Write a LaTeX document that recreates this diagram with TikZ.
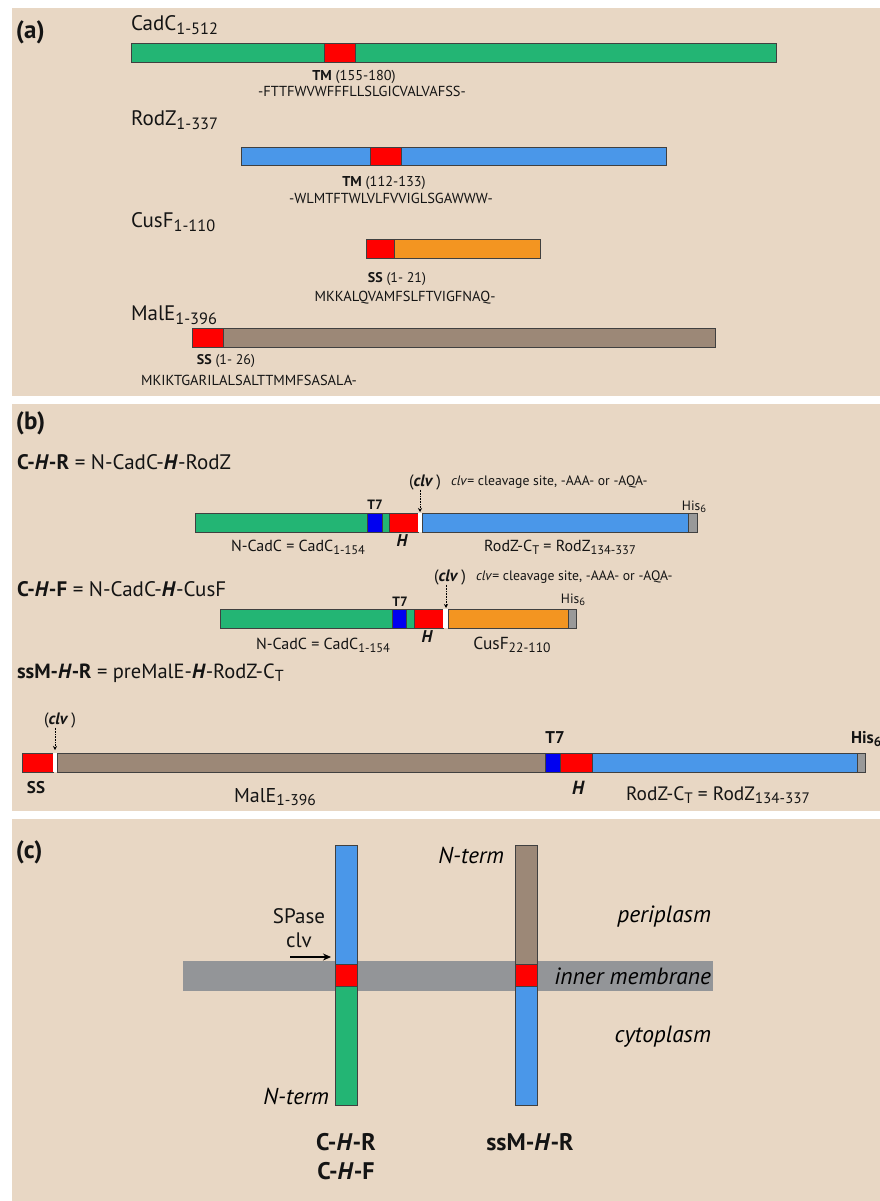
\documentclass[tikz,border=0pt]{standalone}
\usepackage{fontspec}
\setmainfont{PT Sans}
\usetikzlibrary{arrows.meta}
\definecolor{bg}{HTML}{E8D7C4}
\definecolor{cgreen}{HTML}{23B574}
\definecolor{cred}{HTML}{FF0000}
\definecolor{cblue}{HTML}{4A97E9}
\definecolor{corange}{HTML}{F39521}
\definecolor{cbrown}{HTML}{9C8877}
\definecolor{ct7}{HTML}{0000F0}
\definecolor{chis}{HTML}{999999}
\definecolor{cmem}{HTML}{939598}
\newcommand\fsz[1]{\fontsize{#1}{#1}\selectfont}
\newcommand\sbs[1]{\raisebox{-0.35ex}{\scalebox{0.78}{#1}}}
\newcommand\barseg[5]{\filldraw[segbox, fill=#5] (#1,#3) rectangle (#2,#4);}
\tikzset{
  segbox/.style={draw=black!75, line width=0.7pt},
  txt/.style={inner sep=0pt, outer sep=0pt, text=black!92},
  panel/.style={fill=bg, draw=none},
  clvarrow/.style={densely dotted, line width=0.6pt, -{Stealth[length=4pt,width=4pt]}},
  region/.style={txt, anchor=east, font=\fsz{23.5}\itshape, text=black},
}
\begin{document}
\begin{tikzpicture}[x=1pt,y=-1pt]
\useasboundingbox (0,0) rectangle (880,1201);
\fill[white] (0,0) rectangle (880,1201);
% panels
\fill[panel] (12,8) rectangle (880,396);
\fill[panel] (12,404) rectangle (880,811);
\fill[panel] (12,819) rectangle (880,1201);

% ================= (a)
\node[txt, anchor=west, font=\fsz{25}\bfseries] (la) at (16,32) {(a)};
\node[txt, anchor=west, font=\fsz{21}] (ncadc) at (131,25) {CadC\sbs{1-512}};
\barseg{131}{776}{43}{62}{cgreen}
\barseg{324}{355}{43}{62}{cred}
\node[txt, anchor=center, font=\fsz{14.3}] (tm1) at (354,77) {\textbf{TM} (155-180)};
\node[txt, anchor=center, font=\fsz{14.5}] (seq1) at (362,91) {-FTTFWVWFFFLLSLGICVALVAFSS-};

\node[txt, anchor=west, font=\fsz{21}] (nrodz) at (131,120) {RodZ\sbs{1-337}};
\barseg{241}{666}{147}{165}{cblue}
\barseg{370}{401}{147}{165}{cred}
\node[txt, anchor=center, font=\fsz{14.3}] (tm2) at (384,183) {\textbf{TM} (112-133)};
\node[txt, anchor=center, font=\fsz{14.5}] (seq2) at (391,198) {-WLMTFTWLVLFVVIGLSGAWWW-};

\node[txt, anchor=west, font=\fsz{21}] (ncusf) at (131,222) {CusF\sbs{1-110}};
\barseg{366}{540}{239}{258}{corange}
\barseg{366}{394}{239}{258}{cred}
\node[txt, anchor=center, font=\fsz{14}] (ss1) at (397,279) {\textbf{SS} (1- 21)};
\node[txt, anchor=center, font=\fsz{14.5}] (seq3) at (405,298) {MKKALQVAMFSLFTVIGFNAQ-};

\node[txt, anchor=west, font=\fsz{21}] (nmale) at (131,315) {MalE\sbs{1-396}};
\barseg{192}{715}{328}{347}{cbrown}
\barseg{192}{223}{328}{347}{cred}
\node[txt, anchor=center, font=\fsz{14}] (ss2) at (226,361) {\textbf{SS} (1- 26)};
\node[txt, anchor=center, font=\fsz{14.5}] (seq4) at (249,380) {MKIKTGARILALSALTTMMFSASALA-};

% ================= (b)
\node[txt, anchor=west, font=\fsz{25}\bfseries] (lb) at (16,423) {(b)};
\node[txt, anchor=west, font=\fsz{21}] (chr) at (17,462) {\textbf{C-\textit{H}-R} = N-CadC-\textbf{\textit{H}}-RodZ};

% C-H-R bar
\barseg{195}{367}{513}{532}{cgreen}
\barseg{367}{382}{513}{532}{ct7}
\barseg{382}{389}{513}{532}{cgreen}
\barseg{389}{418}{513}{532}{cred}
\fill[white] (418,513) rectangle (422,532);
\barseg{422}{688}{513}{532}{cblue}
\barseg{688}{697}{513}{532}{chis}
\node[txt, anchor=center, font=\fsz{16.5}] (clv1) at (425,482) {(\textbf{\textit{clv}}\,)};
\node[txt, anchor=west, font=\fsz{13.7}] (def1) at (451,482) {\textit{clv}= cleavage site, -AAA- or -AQA-};
\coordinate (a1) at (420,512);
\draw[clvarrow] (clv1.south -| a1) -- (a1);
\node[txt, anchor=center, font=\fsz{13.5}\bfseries] (t71) at (375,505) {T7};
\node[txt, anchor=center, font=\fsz{13.5}] (his1) at (694,507) {His\sbs{6}};
\node[txt, anchor=center, font=\fsz{16}] (nc1) at (298,547) {N-CadC = CadC\sbs{1-154}};
\node[txt, anchor=center, font=\fsz{17}\bfseries\itshape] (h1) at (402,541) {H};
\node[txt, anchor=center, font=\fsz{16}] (rz1) at (560,547) {RodZ-C\sbs{T} = RodZ\sbs{134-337}};

% C-H-F
\node[txt, anchor=west, font=\fsz{21}] (chf) at (17,589) {\textbf{C-\textit{H}-F} = N-CadC-\textbf{\textit{H}}-CusF};
\barseg{220}{392}{609}{628}{cgreen}
\barseg{392}{406}{609}{628}{ct7}
\barseg{406}{414}{609}{628}{cgreen}
\barseg{414}{443}{609}{628}{cred}
\fill[white] (443,609) rectangle (448,628);
\barseg{448}{568}{609}{628}{corange}
\barseg{568}{576}{609}{628}{chis}
\node[txt, anchor=center, font=\fsz{16.5}] (clv2) at (450,577) {(\textbf{\textit{clv}}\,)};
\node[txt, anchor=west, font=\fsz{13.7}] (def2) at (476,577) {\textit{clv}= cleavage site, -AAA- or -AQA-};
\coordinate (a2) at (446,608);
\draw[clvarrow] (clv2.south -| a2) -- (a2);
\node[txt, anchor=center, font=\fsz{13.5}\bfseries] (t72) at (400,602) {T7};
\node[txt, anchor=center, font=\fsz{13.5}] (his2) at (573,600) {His\sbs{6}};
\node[txt, anchor=center, font=\fsz{16}] (nc2) at (323,645) {N-CadC = CadC\sbs{1-154}};
\node[txt, anchor=center, font=\fsz{17}\bfseries\itshape] (h2) at (427,637) {H};
\node[txt, anchor=center, font=\fsz{17.4}] (cf2) at (512,645) {CusF\sbs{22-110}};

% ssM-H-R
\node[txt, anchor=west, font=\fsz{20.5}] (ssm) at (17,673) {\textbf{ssM-\textit{H}-R} = preMalE-\textbf{\textit{H}}-RodZ-C\sbs{T}};
\barseg{22}{53}{753}{772}{cred}
\fill[white] (53,753) rectangle (57,772);
\barseg{57}{545}{753}{772}{cbrown}
\barseg{545}{560}{753}{772}{ct7}
\barseg{560}{592}{753}{772}{cred}
\barseg{592}{857}{753}{772}{cblue}
\barseg{857}{865}{753}{772}{chis}
\node[txt, anchor=center, font=\fsz{16.5}] (clv3) at (60,720) {(\textbf{\textit{clv}}\,)};
\coordinate (a3) at (55,750);
\draw[clvarrow] (clv3.south -| a3) -- (a3);
\node[txt, anchor=center, font=\fsz{17}\bfseries] (t73) at (555,738) {T7};
\node[txt, anchor=west, font=\fsz{17}\bfseries] (his3) at (851,739) {His\sbs{6}};
\node[txt, anchor=center, font=\fsz{17}\bfseries] (ss3) at (36,788) {SS};
\node[txt, anchor=center, font=\fsz{20}] (male3) at (275,797) {MalE\sbs{1-396}};
\node[txt, anchor=center, font=\fsz{19}\bfseries\itshape] (h3) at (578,788) {H};
\node[txt, anchor=center, font=\fsz{19.4}] (rz3) at (718,795) {RodZ-C\sbs{T} = RodZ\sbs{134-337}};

% ================= (c)
\node[txt, anchor=west, font=\fsz{25}\bfseries] (lc) at (16,852) {(c)};
\fill[cmem] (183,961) rectangle (713,991);
% left bar
\barseg{335}{357}{845}{964}{cblue}
\barseg{335}{357}{964}{986}{cred}
\barseg{335}{357}{986}{1105}{cgreen}
% right bar
\barseg{515}{537}{845}{964}{cbrown}
\barseg{515}{537}{964}{986}{cred}
\barseg{515}{537}{986}{1105}{cblue}
\node[region, font=\fsz{23}\itshape] (nt1) at (504,855) {N-term};
\node[region, font=\fsz{23}\itshape] (nt2) at (329,1096) {N-term};
\node[txt, anchor=center, font=\fsz{21}] (spase) at (299,916) {SPase};
\node[txt, anchor=center, font=\fsz{21}] (clvc) at (299,940) {clv};
\coordinate (sp) at (331,957);
\draw[line width=1.2pt, -{Stealth[length=8pt,width=7pt]}] (290,957) -- (sp);
\node[region] (peri) at (711,917) {periplasm};
\node[region] (inner) at (711,976) {inner membrane};
\node[region] (cyto) at (711,1037) {cytoplasm};
\node[txt, anchor=center, font=\fsz{24}\bfseries] (c1) at (346,1142) {C-\textit{H}-R};
\node[txt, anchor=center, font=\fsz{24}\bfseries] (c2) at (346,1171) {C-\textit{H}-F};
\node[txt, anchor=center, font=\fsz{24}\bfseries] (c3) at (530,1142) {ssM-\textit{H}-R};
\end{tikzpicture}
\end{document}
